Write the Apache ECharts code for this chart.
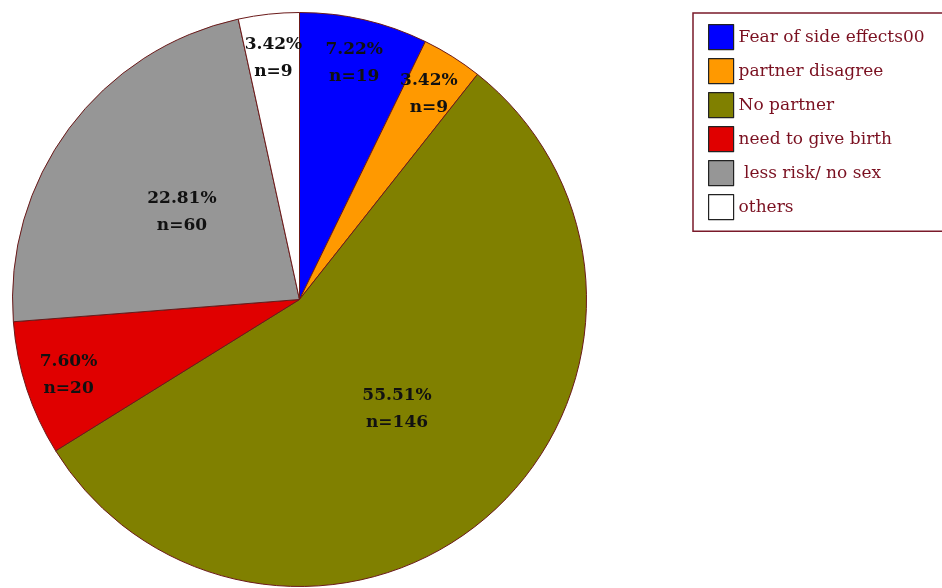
<!DOCTYPE html>
<html>
<head>
<meta charset="utf-8">
<script src="https://cdn.jsdelivr.net/npm/echarts@6/dist/echarts.min.js"></script>
<style>
html,body{margin:0;padding:0;background:#fff;}
#chart{width:942px;height:588px;}
</style>
</head>
<body>
<div id="chart"></div>
<script>
const categories = ['Fear of side effects00', 'partner disagree', 'No partner', 'need to give birth', ' less risk/ no sex', 'others'];
const counts = [19, 9, 146, 20, 60, 9];
const percentLabels = ['7.22', '3.42', '55.51', '7.60', '22.81', '3.42'];
const palette = ['#0000ff', '#ff9900', '#808000', '#e00000', '#969696', '#ffffff'];
// which slices carry their label near the rim rather than mid-radius
const labelNearRim = [true, true, false, true, false, true];

const chart = echarts.init(document.getElementById('chart'), null, {renderer: 'canvas'});

const labelStyle = {
  fontFamily: 'DejaVu Serif',
  fontWeight: 'bold',
  fontSize: 17,
  lineHeight: 27,
  color: '#111'
};
function fmt(p) {
  return percentLabels[p.dataIndex] + '%\nn=' + counts[p.dataIndex];
}

const mainData = categories.map((c, i) => ({
  name: c,
  value: counts[i],
  itemStyle: {color: palette[i]},
  label: {show: !labelNearRim[i]}
}));
const rimData = categories.map((c, i) => ({
  name: c,
  value: counts[i],
  label: {show: labelNearRim[i]}
}));

chart.setOption({
  backgroundColor: '#ffffff',
  animation: false,
  legend: {
    orient: 'vertical',
    left: 693,
    top: 13,
    padding: [11, 60, 11, 15],
    itemWidth: 25,
    itemHeight: 25,
    itemGap: 7.8,
    itemTextGap: 7,
    icon: 'rect',
    borderColor: '#7a1a2a',
    borderWidth: 1.5,
    backgroundColor: '#ffffff',
    data: categories,
    itemStyle: {borderColor: '#222', borderWidth: 1.2},
    textStyle: {fontFamily: 'DejaVu Serif', fontSize: 17, color: '#7a1020'}
  },
  series: [
    {
      type: 'pie',
      center: [299.5, 299.5],
      radius: 287,
      startAngle: 90,
      clockwise: true,
      avoidLabelOverlap: false,
      silent: true,
      itemStyle: {borderColor: '#6b1a1a', borderWidth: 1},
      label: Object.assign({position: 'inside', formatter: fmt}, labelStyle),
      labelLine: {show: false},
      emphasis: {disabled: true},
      data: mainData
    },
    {
      type: 'pie',
      center: [299.5, 299.5],
      radius: 480,
      startAngle: 90,
      clockwise: true,
      avoidLabelOverlap: false,
      silent: true,
      z: 3,
      itemStyle: {color: 'rgba(0,0,0,0)', borderWidth: 0},
      label: Object.assign({position: 'inside', formatter: fmt}, labelStyle),
      labelLine: {show: false},
      emphasis: {disabled: true},
      data: rimData
    }
  ]
});
</script>
</body>
</html>
